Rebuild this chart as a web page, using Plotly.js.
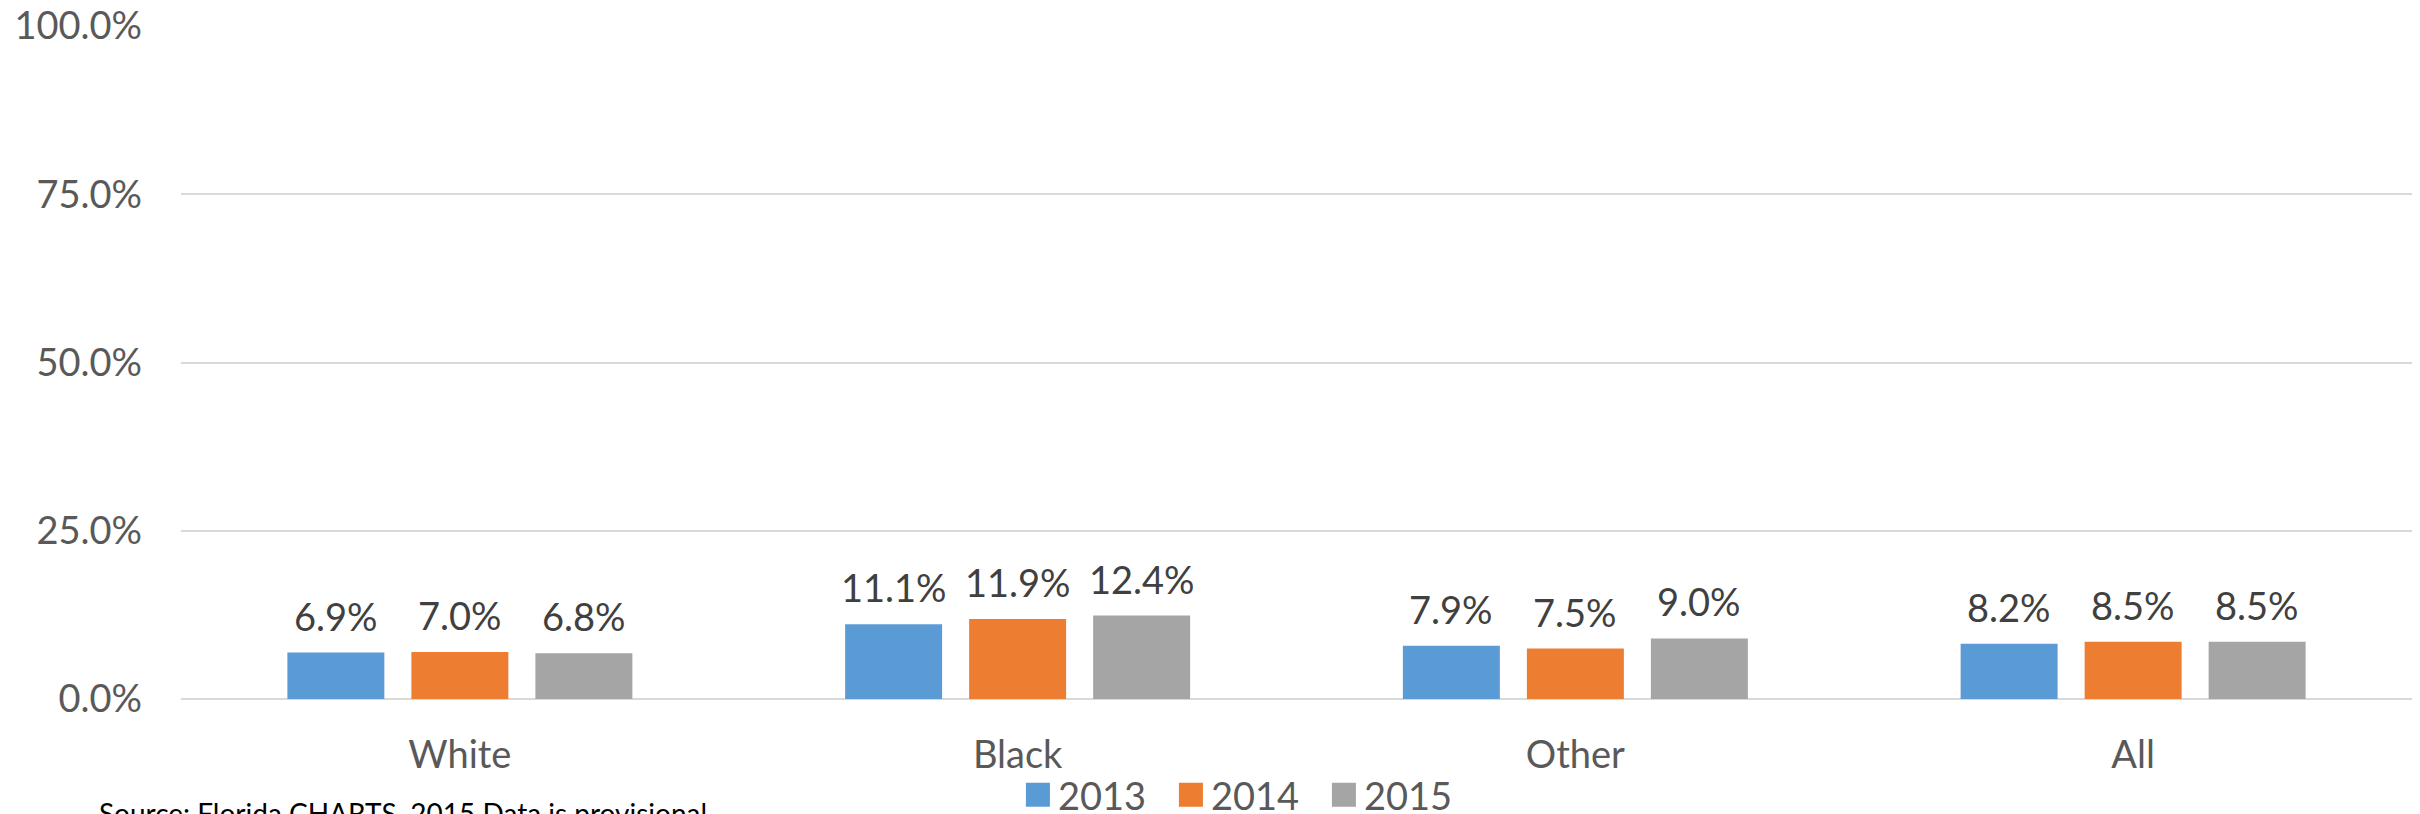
<!DOCTYPE html>
<html>
<head>
<meta charset="utf-8">
<script src="https://cdn.plot.ly/plotly-3.0.1.min.js"></script>
<style>
html,body{margin:0;padding:0;background:#fff;}
#chart{width:2420px;height:814px;}
</style>
</head>
<body>
<div id="chart"></div>
<script>
// ---- data ----
var categories = ["White", "Black", "Other", "All"];
var seriesNames = ["2013", "2014", "2015"];
var values2013 = [0.069, 0.111, 0.079, 0.082];
var values2014 = [0.070, 0.119, 0.075, 0.085];
var values2015 = [0.068, 0.124, 0.090, 0.085];
var yTickVals = [0, 0.25, 0.5, 0.75, 1.0];
var sourceNote = "Source: Florida CHARTS. 2015 Data is provisional.";

// ---- styling ----
var colors = ["#5B9BD5", "#ED7D31", "#A5A5A5"];
var font = "Lato, Carlito, Calibri, sans-serif";
var fs = 38;
var W = 2420, H = 814;
var margin = {l: 181, r: 8, t: 26, b: 115, autoexpand: false};
var bargap = 0.333;

var allValues = [values2013, values2014, values2015];
var traces = allValues.map(function (vals, i) {
  return {
    type: "bar",
    name: seriesNames[i],
    x: categories,
    y: vals,
    marker: {color: colors[i]},
    hoverinfo: "x+y+name"
  };
});

// data labels above each bar, offset to its slot within the group
var plotW = W - margin.l - margin.r;
var plotH = H - margin.t - margin.b;
var catW = plotW / categories.length;
var slot = catW * (1 - bargap) / seriesNames.length;
var annotations = [];
allValues.forEach(function (vals, i) {
  vals.forEach(function (v, j) {
    annotations.push({
      x: categories[j], y: v, xref: "x", yref: "y",
      text: (v * 100).toFixed(1) + "%",
      showarrow: false,
      yanchor: "bottom",
      xshift: (i - 1) * slot,
      yshift: 12,
      font: {family: font, size: fs, color: "#404040"}
    });
  });
});
annotations.push({
  xref: "paper", yref: "paper",
  x: (97 - margin.l) / plotW, y: -95 / plotH,
  xanchor: "left", yanchor: "top",
  text: sourceNote, showarrow: false,
  font: {family: font, size: 28, color: "#000000"}
});

var layout = {
  width: W, height: H,
  margin: margin,
  paper_bgcolor: "#ffffff",
  plot_bgcolor: "#ffffff",
  font: {family: font, size: fs, color: "#595959"},
  barmode: "group",
  bargap: bargap,
  bargroupgap: 0.218,
  showlegend: true,
  legend: {
    orientation: "h",
    x: 0.478, xanchor: "center",
    y: -96 / plotH, yanchor: "middle",
    entrywidth: 108,
    font: {family: font, size: fs, color: "#595959"},
    itemclick: false, itemdoubleclick: false,
    bgcolor: "rgba(0,0,0,0)"
  },
  xaxis: {
    type: "category",
    showgrid: false,
    showline: false,
    zeroline: false,
    ticks: "",
    ticklabelstandoff: 30,
    tickfont: {family: font, size: fs, color: "#595959"}
  },
  yaxis: {
    range: [0, 1],
    tickvals: yTickVals,
    tickformat: ".1%",
    showgrid: true,
    gridcolor: "#D9D9D9",
    gridwidth: 2,
    zeroline: true,
    zerolinecolor: "#D9D9D9",
    zerolinewidth: 2,
    showline: false,
    ticks: "",
    ticklabelstandoff: 38,
    tickfont: {family: font, size: fs, color: "#595959"}
  },
  annotations: annotations
};

Plotly.newPlot("chart", traces, layout, {displayModeBar: false, staticPlot: true}).then(function (gd) {
  // enlarge legend swatches to match the reference's square markers
  var pts = gd.querySelectorAll(".legend .legendpoints path");
  pts.forEach(function (p) { p.setAttribute("d", "M12,12H-12V-12H12Z"); });
});
</script>
</body>
</html>
